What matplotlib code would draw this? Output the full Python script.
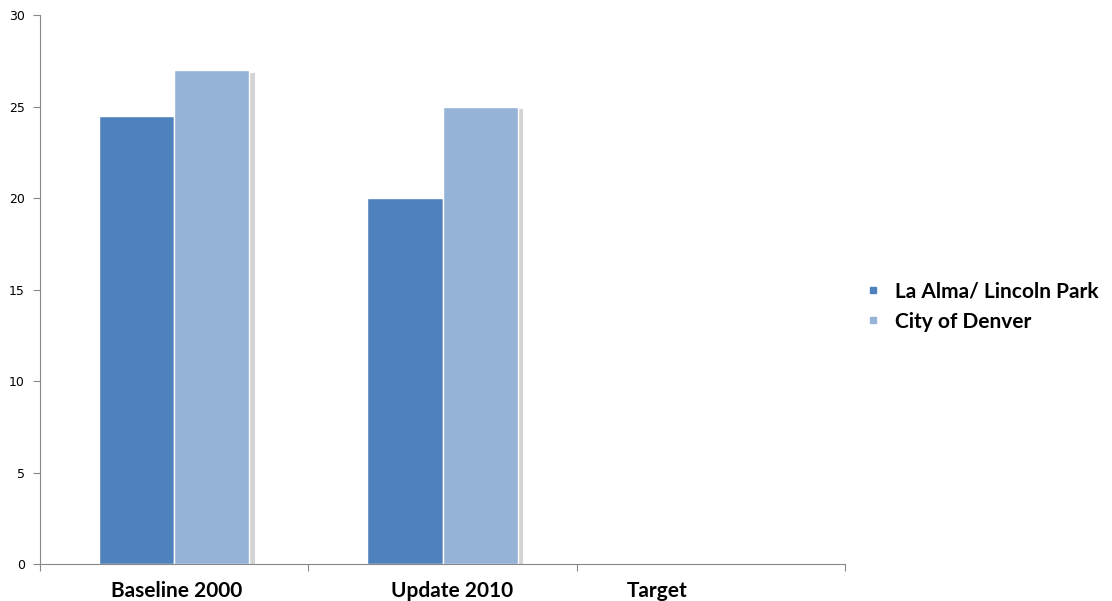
import numpy as np
import matplotlib
matplotlib.use('Agg')
import matplotlib.pyplot as plt
import matplotlib.patheffects as pe
from matplotlib.lines import Line2D

categories = ['Baseline 2000', 'Update 2010', 'Target']
label_pos = [0.51, 1.535, 2.3]
series_names = ['La Alma/ Lincoln Park', 'City of Denver']
la_alma = [24.5, 20.0, 0]
denver = [27.0, 25.0, 0]
colors = ['#4F81BD', '#95B3D7']

fig = plt.figure(figsize=(11.12, 6.01), dpi=100)
ax = fig.add_axes([0.036, 0.0616, 0.724, 0.913])

x = np.arange(len(categories)) + 0.5
w = 0.28
shadow = [pe.SimplePatchShadow(offset=(4, -2), shadow_rgbFace='#aaaaaa', alpha=0.5), pe.Normal()]
for vals, off, c in zip([la_alma, denver], [-w/2, w/2], colors):
    bars = ax.bar(x + off, vals, width=w, color=c, edgecolor='white', linewidth=1)
    for b in bars:
        if b.get_height() > 0:
            b.set_path_effects(shadow)

ax.set_xlim(0, 3)
ax.set_ylim(0, 30)
ax.set_yticks([0, 5, 10, 15, 20, 25, 30])
ax.set_xticks([0, 1, 2, 3])
ax.set_xticklabels([])
ax.set_xticks(label_pos, minor=True)
ax.set_xticklabels(categories, minor=True, fontsize=15, fontweight='bold', family='Lato')
ax.tick_params(axis='x', which='minor', length=0, pad=12)
ax.tick_params(axis='x', which='major', length=5, color='#888888')
ax.tick_params(axis='y', length=5, color='#888888', labelsize=9, pad=6)
for s in ['top', 'right']:
    ax.spines[s].set_visible(False)
for s in ['left', 'bottom']:
    ax.spines[s].set_color('#888888')

handles = [Line2D([], [], marker='s', linestyle='none', color=c, markersize=5) for c in colors]
fig.legend(handles, series_names, loc='center left', bbox_to_anchor=(0.766, 0.49),
           frameon=False, prop={'family': 'Lato', 'weight': 'bold', 'size': 15},
           handletextpad=0.05, labelspacing=0.5, borderaxespad=0, borderpad=0)

fig.savefig('out.png', dpi=100)
